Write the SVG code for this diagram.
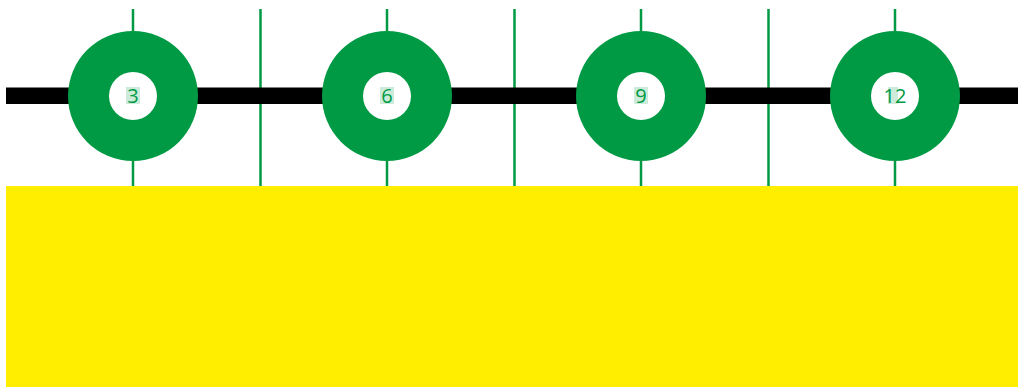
<svg xmlns="http://www.w3.org/2000/svg" width="1018" height="388" viewBox="0 0 1018 388">
<style>
.tick{stroke:#009a44;stroke-width:2.5}
.ring{fill:#009a44}
.hole{fill:#ffffff}
.hl{fill:#009a44;fill-opacity:0.2}
.lbl{font-family:"Open Sans","Noto Sans",sans-serif;font-size:20px;fill:#009a44;text-anchor:middle}
</style>
<rect width="1018" height="388" fill="#ffffff"/>
<g id="connectors">
<line class="tick" x1="133" y1="9" x2="133" y2="186"/>
<line class="tick" x1="260.5" y1="9" x2="260.5" y2="186"/>
<line class="tick" x1="387" y1="9" x2="387" y2="186"/>
<line class="tick" x1="514.5" y1="9" x2="514.5" y2="186"/>
<line class="tick" x1="641" y1="9" x2="641" y2="186"/>
<line class="tick" x1="768.5" y1="9" x2="768.5" y2="186"/>
<line class="tick" x1="895" y1="9" x2="895" y2="186"/>
<rect x="6" y="87.5" width="1012" height="16.5" fill="#000000"/>
</g>
<rect id="band" x="6" y="186" width="1012" height="201" fill="#ffee00"/>
<g id="node-3">
<circle class="ring" cx="133" cy="96" r="65"/>
<circle class="hole" cx="133" cy="96" r="24"/>
<rect class="hl" x="126" y="87" width="14" height="17"/>
<text class="lbl" x="133" y="103">3</text>
</g>
<g id="node-6">
<circle class="ring" cx="387" cy="96" r="65"/>
<circle class="hole" cx="387" cy="96" r="24"/>
<rect class="hl" x="380" y="87" width="14" height="17"/>
<text class="lbl" x="387" y="103">6</text>
</g>
<g id="node-9">
<circle class="ring" cx="641" cy="96" r="65"/>
<circle class="hole" cx="641" cy="96" r="24"/>
<rect class="hl" x="634" y="87" width="14" height="17"/>
<text class="lbl" x="641" y="103">9</text>
</g>
<g id="node-12">
<circle class="ring" cx="895" cy="96" r="65"/>
<circle class="hole" cx="895" cy="96" r="24"/>
<rect class="hl" x="888" y="87" width="10" height="17"/>
<text class="lbl" x="895" y="103">12</text>
</g>
</svg>
